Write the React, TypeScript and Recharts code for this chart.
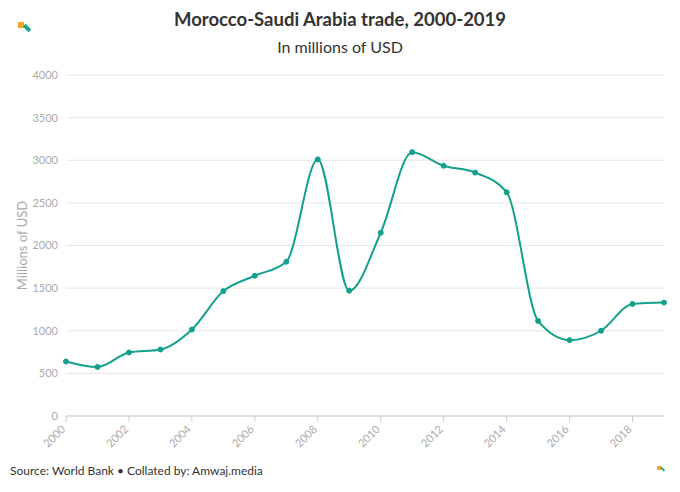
import { LineChart, Line, XAxis, YAxis, CartesianGrid } from "recharts";

const years = [2000, 2001, 2002, 2003, 2004, 2005, 2006, 2007, 2008, 2009, 2010, 2011, 2012, 2013, 2014, 2015, 2016, 2017, 2018, 2019];
const trade = [640, 575, 745, 780, 1015, 1465, 1645, 1810, 3010, 1470, 2150, 3095, 2935, 2855, 2625, 1115, 890, 1000, 1315, 1330];
const yTicks = [0, 500, 1000, 1500, 2000, 2500, 3000, 3500, 4000];
const xTicks = [2000, 2002, 2004, 2006, 2008, 2010, 2012, 2014, 2016, 2018];

const data = years.map((y, i) => ({ year: y, value: trade[i] }));
const font = "Lato, 'Open Sans', sans-serif";

function XTick({ x, y, payload }: any) {
  return (
    <text x={x} y={y} dy={6} transform={`rotate(-45 ${x} ${y + 6})`} textAnchor="end" fontSize={11} fill="#aaa" fontFamily={font}>
      {payload.value}
    </text>
  );
}

function Logo({ left, top, scale }: { left: number; top: number; scale: number }) {
  return (
    <div style={{ position: "absolute", left, top, width: 16 * scale, height: 12 * scale }}>
      <div style={{ position: "absolute", left: 0, top: 0, width: 6 * scale, height: 6 * scale, background: "#f5a623" }} />
      <div style={{ position: "absolute", left: 5 * scale, top: 4 * scale, width: 8 * scale, height: 4 * scale, background: "#19a58c", transform: "rotate(45deg)" }} />
    </div>
  );
}

export default function App() {
  return (
    <div style={{ position: "absolute", left: 0, top: 0, width: 680, height: 492, background: "#fff", fontFamily: font }}>
      <Logo left={18} top={22} scale={1} />
      <Logo left={657} top={466} scale={0.6} />
      <div style={{ position: "absolute", top: 8, width: 680, textAlign: "center", fontSize: 18.5, fontWeight: 700, color: "#333" }}>
        Morocco-Saudi Arabia trade, 2000-2019
      </div>
      <div style={{ position: "absolute", top: 37, width: 680, textAlign: "center", fontSize: 16, color: "#333" }}>
        In millions of USD
      </div>
      <div style={{ position: "absolute", left: 10, top: 463, fontSize: 12, color: "#333" }}>
        Source: World Bank • Collated by: Amwaj.media
      </div>
      <div style={{ position: "absolute", left: 0, top: 60 }}>
        <LineChart width={680} height={400} data={data} margin={{ top: 15, right: 16, bottom: 0, left: 0 }}>
          <CartesianGrid vertical={false} stroke="#e6e6e6" />
          <XAxis
            dataKey="year"
            type="number"
            domain={[2000, 2019]}
            ticks={xTicks}
            tick={<XTick />}
            stroke="#ccc"
            tickLine={{ stroke: "#ccc" }}
            height={44}
            interval={0}
          />
          <YAxis
            domain={[0, 4000]}
            ticks={yTicks}
            axisLine={false}
            tickLine={false}
            width={66}
            tick={{ fontSize: 11, fill: "#aaa", fontFamily: font }}
            label={{ value: "Millions of USD", angle: -90, position: "insideLeft", offset: 22, style: { fill: "#aaa", fontSize: 13, textAnchor: "middle", fontFamily: font } }}
          />
          <Line
            type="monotone"
            dataKey="value"
            stroke="#13a08c"
            strokeWidth={2}
            dot={{ r: 2.5, fill: "#13a08c", stroke: "#13a08c", strokeWidth: 1 }}
            isAnimationActive={false}
          />
        </LineChart>
      </div>
    </div>
  );
}
